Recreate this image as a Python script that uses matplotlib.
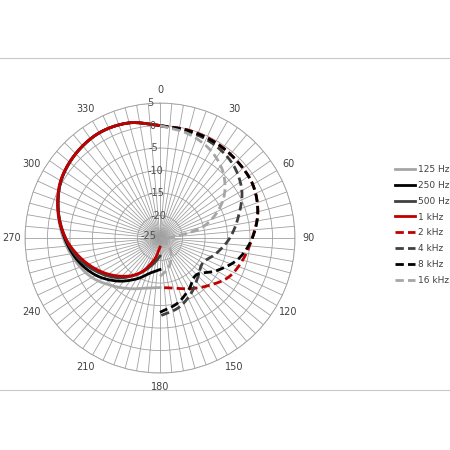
import matplotlib.pyplot as plt
import numpy as np
from matplotlib.lines import Line2D

plt.rcParams['font.family'] = ['DejaVu Sans']

# angles in degrees; rear half (solid) and front half (dashed)
ang_left = [180, 195, 210, 225, 240, 255, 270, 285, 300, 315, 330, 345, 360]
ang_right = [0, 15, 30, 45, 60, 75, 90, 105, 120, 135, 150, 165, 180]

hz125 = [-14, -13.5, -12, -10, -7.5, -5.5, -3.5, -1.5, 0.5, 1.5, 2, 1.5, 0]
hz250 = [-18, -17, -14.5, -11.5, -8.5, -6, -3.8, -1.6, 0.4, 1.5, 2, 1.5, 0]
hz500 = [-21, -19, -16, -12.5, -9.5, -6.5, -4, -1.6, 0.4, 1.5, 2, 1.5, 0]
khz1 = [-23, -20, -16, -13, -10, -7, -4, -1.5, 0.5, 1.5, 2, 1.5, 0]
khz2 = [0, -0.2, -0.4, -0.8, -1.2, -2.5, -4.5, -6, -7.5, -10, -12, -13.5, -14]
khz4 = [0, -0.5, -1, -2, -4, -7, -9.5, -12, -14, -13, -11, -9, -7.7]
khz8 = [0, -0.3, -0.5, -0.8, -1.2, -2.5, -4.5, -7, -10.5, -13.5, -12, -10, -8.5]
khz16 = [0, -1, -2.5, -5, -9, -15, -23, -24.5, -24, -22, -20, -18, -16.5]

labels = ['125 Hz', '250 Hz', '500 Hz', '1 kHz', '2 kHz', '4 kHz', '8 kHz', '16 kHz']
colors = ['#a6a6a6', '#000000', '#404040', '#c00000', '#c00000', '#404040', '#000000', '#a6a6a6']


def smooth(ang, vals, rmin=-25, n=12):
    # Catmull-Rom in cartesian space, like Excel's smoothed lines
    t = np.deg2rad(ang)
    r = np.array(vals) - rmin
    p = np.c_[r * np.sin(t), r * np.cos(t)]
    p = np.vstack([2 * p[0] - p[1], p, 2 * p[-1] - p[-2]])
    out = []
    s = np.linspace(0, 1, n, endpoint=False)[:, None]
    for i in range(1, len(p) - 2):
        p0, p1, p2, p3 = p[i - 1], p[i], p[i + 1], p[i + 2]
        out.append(0.5 * (2 * p1 + (-p0 + p2) * s + (2 * p0 - 5 * p1 + 4 * p2 - p3) * s ** 2
                          + (-p0 + 3 * p1 - 3 * p2 + p3) * s ** 3))
    out.append(p[-2][None])
    out = np.vstack(out)
    th = np.arctan2(out[:, 0], out[:, 1])
    rr = np.hypot(out[:, 0], out[:, 1]) + rmin
    return th, rr


fig = plt.figure(figsize=(4.5, 4.5), dpi=100)
fig.add_artist(Line2D([0, 1], [1 - 58 / 450] * 2, color='#c8c8c8', lw=0.8))
fig.add_artist(Line2D([0, 1], [1 - 390 / 450] * 2, color='#c8c8c8', lw=0.8))

ax = fig.add_axes([0.0556, 0.171, 0.6, 0.6], projection='polar')
ax.set_theta_zero_location('N')
ax.set_theta_direction(-1)
ax.set_ylim(-25, 5)
ax.set_yticks([-25, -20, -15, -10, -5, 0, 5])
ax.set_yticklabels([])
ax.set_xticks(np.deg2rad(np.arange(0, 360, 5)))
ax.set_xticklabels([])
ax.grid(color='#a0a0a0', lw=0.6)
ax.spines['polar'].set_color('#a0a0a0')
ax.spines['polar'].set_linewidth(0.6)

for a in range(0, 360, 30):
    ax.text(np.deg2rad(a), 8.0, str(a), ha='center', va='center', fontsize=7, color='#404040')
for v in [-25, -20, -15, -10, -5, 0, 5]:
    ax.text(np.deg2rad(-4 if v > -25 else -80), v if v > -25 else -22.5, str(v),
            ha='center', va='center', fontsize=7, color='#505050')

series = [hz125, hz250, hz500, khz1, khz2, khz4, khz8, khz16]
handles = []
for i, (vals, lab, col) in enumerate(zip(series, labels, colors)):
    ang = ang_left if i < 4 else ang_right
    ls = '-' if i < 4 else (0, (3, 1.5))
    th, rr = smooth(ang, vals)
    h, = ax.plot(th, rr, color=col, lw=2, ls=ls, label=lab)
    handles.append(h)

fig.legend(handles=handles, loc='center left', bbox_to_anchor=(0.86, 0.5),
           frameon=False, fontsize=6.5, handlelength=2.2, labelspacing=0.75,
           handletextpad=0.3, labelcolor='#404040')

fig.savefig('out.png', dpi=100)
